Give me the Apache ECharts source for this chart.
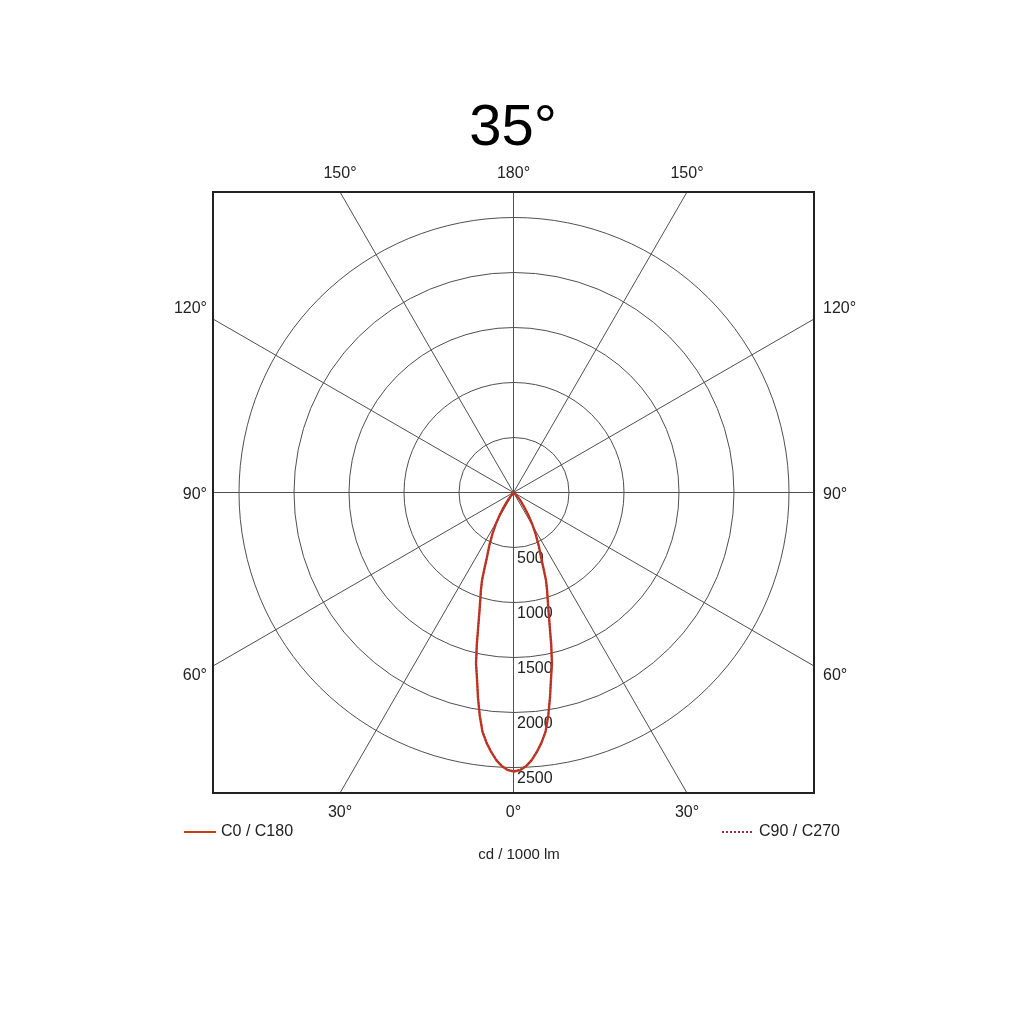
<!DOCTYPE html>
<html><head><meta charset="utf-8">
<script src="https://cdn.jsdelivr.net/npm/echarts@6/dist/echarts.min.js"></script>
<style>html,body{margin:0;background:#fff}#c{width:1024px;height:1024px}</style>
</head><body><div id="c"></div>
<script>
// ---- data ----
const titleText = '35°';
const unitLabel = 'cd / 1000 lm';
const seriesNames = ['C0 / C180', 'C90 / C270'];
const gammaAngles = [0, 1.25, 2.5, 3.75, 5, 6.25, 7.5, 8.75, 10, 11.25, 12.5, 13.75, 15, 16.25, 17.5, 18.75, 20, 21.25, 22.5, 25, 27.5, 30, 32.5, 35, 37.5, 40, 45, 50, 55, 60, 70, 80, 90];
const c0c180 =      [2536, 2525, 2492, 2440, 2370, 2290, 2195, 2050, 1888, 1725, 1595, 1424, 1254, 1121, 1019, 935, 851, 740, 648, 530, 425, 330, 240, 160, 105, 70, 25, 8, 3, 0, 0, 0, 0];
const c90c270 =     [2532, 2521, 2488, 2436, 2366, 2286, 2191, 2046, 1884, 1721, 1591, 1420, 1250, 1118, 1016, 932, 848, 737, 645, 527, 422, 328, 238, 158, 104, 70, 25, 8, 3, 0, 0, 0, 0];
const radiusTicks = [500, 1000, 1500, 2000, 2500];
const bottomLabels = ['30°', '0°', '30°'];
const topLabels = ['150°', '180°', '150°'];
const sideLabels = ['60°', '90°', '120°']; // bottom to top

// ---- build ----
const T = Math.tan(Math.PI / 6);
const spokeVals = [-T, 0, T];
const ringStep = radiusTicks[0];
const lastRing = radiusTicks[radiusTicks.length - 1];
const radiusMax = lastRing + ringStep;          // headroom so the beam tip is not clipped
const pxPerUnit = 275 / lastRing;                // outer ring drawn at 275 px
function toPolar(vals) {
  const pts = [];
  for (let i = gammaAngles.length - 1; i > 0; i--) pts.push([vals[i], 360 - gammaAngles[i]]);
  for (let i = 0; i < gammaAngles.length; i++) pts.push([vals[i], gammaAngles[i]]);
  return pts;
}
function pick(arr, v) { return v < -0.1 ? arr[0] : (v > 0.1 ? arr[2] : arr[1]); }
const spokes = [
  [[0, -1], [0, 1]], [[-1, 0], [1, 0]],
  [[-T, -1], [T, 1]], [[T, -1], [-T, 1]],
  [[-1, -T], [1, T]], [[1, -T], [-1, T]]
];
const gridColor = '#505050';
const ringColors = [0].concat(radiusTicks).map(v => v <= lastRing ? gridColor : 'rgba(0,0,0,0)').concat(['rgba(0,0,0,0)', 'rgba(0,0,0,0)']);
const fontFam = 'Liberation Sans, Arial, sans-serif';
const labelStyle = { fontSize: 16, color: '#222', fontFamily: fontFam };
const sideRich = {
  up: { fontSize: 16, color: '#222', fontFamily: fontFam, padding: [0, 0, 20, 0] },
  mid: { fontSize: 16, color: '#222', fontFamily: fontFam, padding: [4, 0, 0, 0] },
  dn: { fontSize: 16, color: '#222', fontFamily: fontFam, padding: [20, 0, 0, 0] }
};
function sideFmt(v) {
  const t = pick(sideLabels, v);
  return v > 0.1 ? '{up|' + t + '}' : (v < -0.1 ? '{dn|' + t + '}' : '{mid|' + t + '}');
}
const axisBase = {
  type: 'value', min: -1, max: 1,
  axisLine: { show: false }, axisTick: { show: false }, splitLine: { show: false }
};
const legendBase = { itemWidth: 32, itemHeight: 2, itemStyle: { opacity: 0 }, textStyle: labelStyle, top: 819 };

const chart = echarts.init(document.getElementById('c'));
chart.setOption({
  animation: false,
  backgroundColor: '#fff',
  title: [
    { text: titleText, left: 508, top: 95, textAlign: 'center',
      textStyle: { fontSize: 58, fontWeight: 'normal', color: '#000', fontFamily: fontFam } },
    { text: unitLabel, left: 514, top: 842, textAlign: 'center',
      textStyle: { fontSize: 15, fontWeight: 'normal', color: '#222', fontFamily: fontFam } }
  ],
  legend: [
    Object.assign({ data: [seriesNames[0]], left: 178 }, legendBase),
    Object.assign({ data: [seriesNames[1]], left: 716 }, legendBase)
  ],
  grid: { left: 213, top: 192, width: 601, height: 601, show: true, borderColor: '#222', borderWidth: 2, z: 5 },
  xAxis: [
    Object.assign({}, axisBase, { position: 'bottom',
      axisLabel: Object.assign({ customValues: spokeVals, margin: 12, formatter: v => pick(bottomLabels, v) }, labelStyle) }),
    Object.assign({}, axisBase, { position: 'top',
      axisLabel: Object.assign({ customValues: spokeVals, margin: 10, formatter: v => pick(topLabels, v) }, labelStyle) })
  ],
  yAxis: [
    Object.assign({}, axisBase, { position: 'left',
      axisLabel: Object.assign({ customValues: spokeVals, margin: 6, formatter: sideFmt, rich: sideRich }, labelStyle) }),
    Object.assign({}, axisBase, { position: 'right',
      axisLabel: Object.assign({ customValues: spokeVals, margin: 9, formatter: sideFmt, rich: sideRich }, labelStyle) })
  ],
  polar: { center: [514, 492.5], radius: radiusMax * pxPerUnit },
  angleAxis: {
    type: 'value', min: 0, max: 360, startAngle: 270, clockwise: true,
    axisLine: { show: false }, axisTick: { show: false }, axisLabel: { show: false }, splitLine: { show: false }
  },
  radiusAxis: {
    type: 'value', min: 0, max: radiusMax, interval: ringStep,
    axisLine: { show: false }, axisTick: { show: false },
    splitLine: { show: true, lineStyle: { color: ringColors, width: 1 } },
    axisLabel: Object.assign({ showMinLabel: false, showMaxLabel: false, align: 'left', verticalAlign: 'top', margin: 3,
      padding: [3, 0, 0, 0], formatter: v => (v > 0 && v <= lastRing) ? String(v) : '' }, labelStyle),
    z: 3
  },
  series: spokes.map((s, i) => ({
    type: 'line', name: 'spoke' + i, xAxisIndex: 0, yAxisIndex: 0, data: s, symbol: 'none', silent: true,
    lineStyle: { color: gridColor, width: 1 }, z: 2
  })).concat([
    { type: 'line', name: seriesNames[0], coordinateSystem: 'polar', data: toPolar(c0c180), symbol: 'none', clip: false,
      lineStyle: { color: '#c83c1c', width: 2.4 }, itemStyle: { color: '#b8342c' }, z: 10 },
    { type: 'line', name: seriesNames[1], coordinateSystem: 'polar', data: toPolar(c90c270), symbol: 'none', clip: false,
      lineStyle: { color: '#a8283c', width: 1.6, type: 'dotted' }, itemStyle: { color: '#a8283c' }, z: 11 }
  ])
});
</script></body></html>
